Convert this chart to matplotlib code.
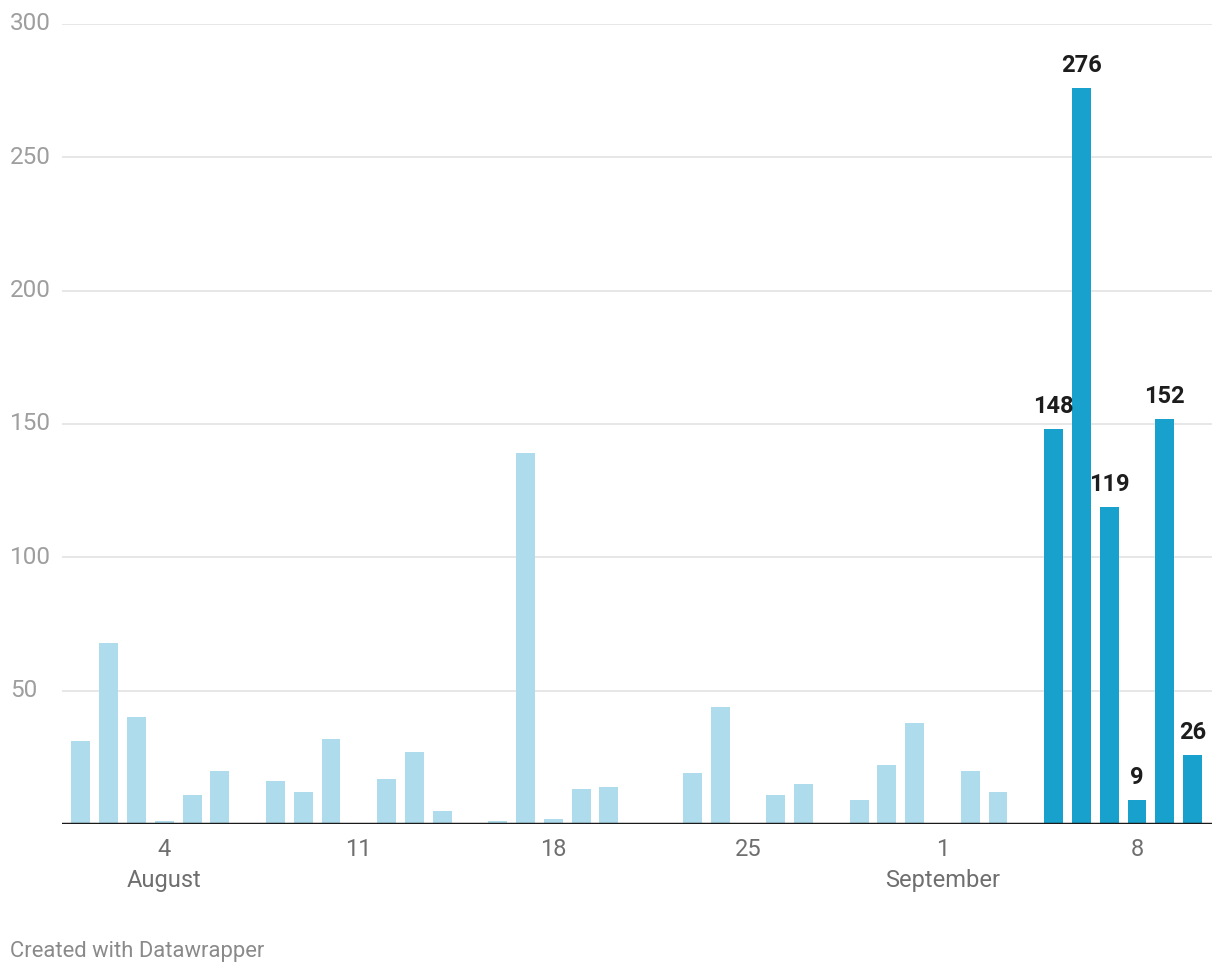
import matplotlib
matplotlib.use("Agg")
import matplotlib.pyplot as plt
import matplotlib.transforms as mtransforms

# daily counts, 1 August - 10 September
dates = [f"Aug {d}" for d in range(1, 32)] + [f"Sep {d}" for d in range(1, 11)]
values = [31, 68, 40, 1, 11, 20, 0, 16, 12, 32, 0, 17, 27, 5, 0, 1, 139, 2, 13, 14,
          0, 0, 19, 44, 0, 11, 15, 0, 9, 22, 38,
          0, 20, 12, 0, 148, 276, 119, 9, 152, 26]
highlight = ["Sep 5", "Sep 6", "Sep 7", "Sep 8", "Sep 9", "Sep 10"]
tick_dates = ["Aug 4", "Aug 11", "Aug 18", "Aug 25", "Sep 1", "Sep 8"]
tick_labels = ["4", "11", "18", "25", "1", "8"]
month_labels = {"Aug 4": "August", "Sep 1": "September"}
y_ticks = [50, 100, 150, 200, 250, 300]

LIGHT = "#aedcec"
DARK = "#18a1cd"
FONT = "Roboto"

W, H = 1220, 976
fig = plt.figure(figsize=(W / 100, H / 100), dpi=100)
ax = fig.add_axes([62 / W, 1 - 824 / H, (1212 - 62) / W, 800 / H])

xs = list(range(len(dates)))
colors = [DARK if d in highlight else LIGHT for d in dates]
ax.bar(xs, values, width=0.68, color=colors, zorder=2)

ax.set_xlim(-0.68, len(dates) - 0.3)
ax.set_ylim(0, 300)

for s in ax.spines.values():
    s.set_visible(False)
ax.set_xticks([])
ax.set_yticks([])

# gridlines and y labels (datawrapper style, labels at far left)
for t in y_ticks:
    ax.axhline(t, color="#e3e3e3", linewidth=1.2, zorder=0)
    ax.text(10 / W, t, str(t), transform=mtransforms.blended_transform_factory(fig.transFigure, ax.transData),
            ha="left", va="center", fontsize=17.5, color="#9e9e9e", family=FONT)
ax.axhline(0, color="#1a1a1a", linewidth=2.5, zorder=3)

# x labels
xform = mtransforms.blended_transform_factory(ax.transData, fig.transFigure)
for d, lab in zip(tick_dates, tick_labels):
    i = dates.index(d)
    ax.text(i, 1 - 850 / H, lab, transform=xform, ha="center", va="center",
            fontsize=17, color="#6f6f6f", family=FONT)
    if d in month_labels:
        ax.text(i, 1 - 880 / H, month_labels[d], transform=xform, ha="center", va="center",
                fontsize=17, color="#6f6f6f", family=FONT)

# value labels on highlighted bars
for i, (d, v) in enumerate(zip(dates, values)):
    if d in highlight:
        ax.annotate(str(v), (i, v), xytext=(0, 8), textcoords="offset points",
                    ha="center", va="bottom", fontsize=17, fontweight="bold",
                    color="#1d1d1d", family=FONT, zorder=4)

fig.text(10 / W, 1 - 952 / H, "Created with Datawrapper", ha="left", va="center",
         fontsize=15.8, color="#8a8a8a", family=FONT)

fig.savefig("out.png", dpi=100)
